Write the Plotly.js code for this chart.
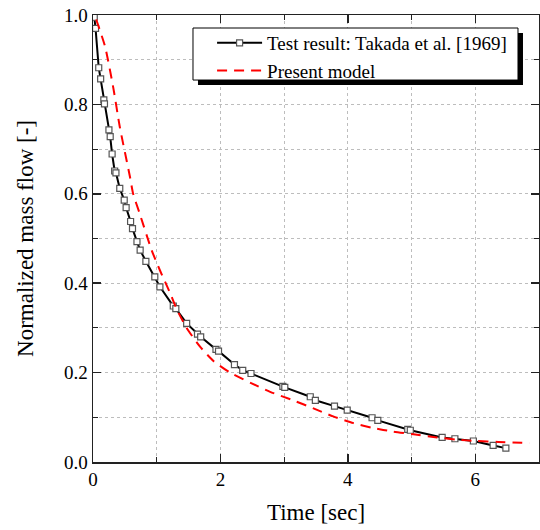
<!DOCTYPE html>
<html>
<head>
<meta charset="utf-8">
<script src="https://cdn.plot.ly/plotly-3.0.1.min.js"></script>
<style>html,body{margin:0;padding:0;background:#fff;}#chart{width:540px;height:530px;}</style>
</head>
<body>
<div id="chart"></div>
<script>
// Test result: Takada et al. [1969]
var testTime = [0.02,0.04,0.09,0.12,0.17,0.18,0.25,0.27,0.30,0.34,0.36,0.42,0.49,0.52,0.59,0.62,0.69,0.74,0.83,0.97,1.05,1.26,1.30,1.47,1.64,1.69,1.93,1.97,2.22,2.35,2.48,2.98,3.01,3.41,3.49,3.79,3.99,4.38,4.47,4.94,4.98,5.48,5.68,5.97,6.28,6.48];
var testFlow = [0.995,0.97,0.882,0.857,0.810,0.801,0.743,0.728,0.689,0.651,0.647,0.612,0.586,0.569,0.538,0.522,0.493,0.474,0.449,0.414,0.392,0.349,0.343,0.310,0.286,0.280,0.252,0.248,0.218,0.205,0.198,0.169,0.167,0.146,0.138,0.125,0.116,0.099,0.093,0.073,0.071,0.055,0.052,0.047,0.037,0.031];
// Present model
var modelTime = [0.05,0.19,0.32,0.42,0.58,0.63,0.73,0.92,1.05,1.21,1.31,1.47,1.68,1.89,2.15,2.49,2.78,3.14,3.46,3.77,4.09,4.40,4.71,5.03,5.40,5.71,6.02,6.36,6.73,6.85];
var modelFlow = [0.99,0.929,0.836,0.750,0.638,0.600,0.557,0.474,0.429,0.378,0.343,0.300,0.258,0.226,0.200,0.176,0.157,0.138,0.120,0.102,0.087,0.076,0.068,0.062,0.055,0.050,0.047,0.045,0.043,0.042];
var xTicks = [0,2,4,6];
var xTickText = ['0','2','4','6'];
var yTicks = [0,0.2,0.4,0.6,0.8,1.0];
var yTickText = ['0.0','0.2','0.4','0.6','0.8','1.0'];

var serif = 'Liberation Serif, Times New Roman, serif';
var traces = [
  {x: testTime, y: testFlow, type: 'scatter', mode: 'lines+markers',
   name: 'Test result: Takada et al. [1969]',
   line: {color: '#000', width: 2},
   marker: {symbol: 'square', size: 6, color: '#fff', line: {color: '#555', width: 1.2}}},
  {x: modelTime, y: modelFlow, type: 'scatter', mode: 'lines',
   name: 'Present model',
   line: {color: '#ff0000', width: 2, dash: '10px,7px', shape: 'spline', smoothing: 0.6}}
];
var gridc = '#bdbdbd';
var layout = {
  width: 540, height: 530,
  margin: {l: 93, r: 1, t: 15, b: 68},
  paper_bgcolor: '#fff', plot_bgcolor: '#fff',
  font: {family: serif, color: '#000', size: 19},
  showlegend: true,
  legend: {x: 0.267, y: 0.980, xanchor: 'left', yanchor: 'top',
    bgcolor: 'rgba(0,0,0,0)', borderwidth: 0,
    font: {family: serif, size: 19, color: '#000'},
    itemwidth: 45, tracegroupgap: 0},
  xaxis: {range: [0, 7], tickvals: xTicks, ticktext: xTickText,
    ticks: 'inside', ticklen: 8, tickwidth: 1.5, tickcolor: '#222',
    showline: true, linecolor: '#222', linewidth: 1.5, mirror: 'ticks',
    showgrid: true, gridcolor: gridc, griddash: '3px,3px', gridwidth: 1,
    zeroline: false,
    minor: {dtick: 1, tick0: 0, ticks: 'inside', ticklen: 5, tickwidth: 1.2, tickcolor: '#222', showgrid: true, gridcolor: gridc, griddash: '3px,3px', gridwidth: 1},
    tickfont: {family: serif, size: 19, color: '#000'},
    title: {text: 'Time [sec]', font: {family: serif, size: 23, color: '#000'}, standoff: 14}},
  yaxis: {range: [0, 1.0], tickvals: yTicks, ticktext: yTickText,
    ticks: 'inside', ticklen: 8, tickwidth: 1.5, tickcolor: '#222',
    showline: true, linecolor: '#222', linewidth: 1.5, mirror: 'ticks',
    showgrid: true, gridcolor: gridc, griddash: '3px,3px', gridwidth: 1,
    zeroline: false,
    minor: {dtick: 0.1, tick0: 0, ticks: 'inside', ticklen: 5, tickwidth: 1.2, tickcolor: '#222', showgrid: true, gridcolor: gridc, griddash: '3px,3px', gridwidth: 1},
    tickfont: {family: serif, size: 19, color: '#000'},
    title: {text: 'Normalized mass flow [-]', font: {family: serif, size: 23, color: '#000'}, standoff: 24}},
  shapes: [
    {type: 'rect', xref: 'paper', yref: 'paper', x0: 0.2354, x1: 0.9641, y0: 0.8433, y1: 0.9597,
     fillcolor: '#000', line: {width: 0}, layer: 'above'},
    {type: 'rect', xref: 'paper', yref: 'paper', x0: 0.2242, x1: 0.9529, y0: 0.8545, y1: 0.9709,
     fillcolor: '#fff', line: {color: '#000', width: 1}, layer: 'above'}
  ]
};
Plotly.newPlot('chart', traces, layout, {displayModeBar: false, staticPlot: true});
</script>
</body>
</html>
